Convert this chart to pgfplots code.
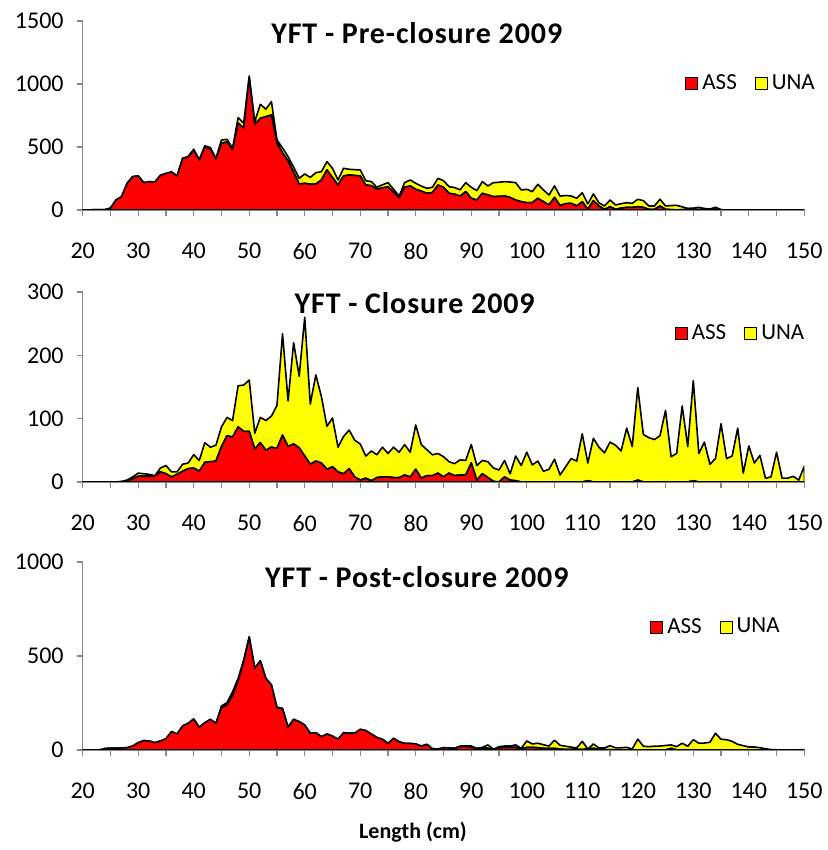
\documentclass[border=0pt]{standalone}
\usepackage{fontspec}
\setmainfont{Carlito}
\newfontfamily\titlefont[LetterSpace=3, BoldFont={Carlito Bold}]{Carlito}
\usepackage{pgfplots}
\usepackage{pgfplotstable}
\pgfplotsset{compat=1.18}
\definecolor{axisgray}{HTML}{868686}
\definecolor{assred}{HTML}{FF0000}
\definecolor{unayellow}{HTML}{FFFF00}

\pgfplotstableread{
x ass tot
20 0 0
21 0 0
22 2 2
23 3 3
24 3 3
25 15 15
26 80 80
27 105 105
28 212 212
29 265 265
30 270 270
31 217 217
32 225 225
33 222 222
34 275 275
35 290 290
36 302 302
37 270 270
38 410 410
39 420 425
40 475 482
41 395 400
42 500 510
43 485 495
44 405 410
45 530 556
46 540 560
47 480 490
48 690 733
49 650 688
50 1050 1064
51 680 700
52 728 839
53 740 800
54 754 860
55 532 556
56 453 492
57 388 423
58 300 340
59 206 251
60 212 286
61 204 259
62 206 296
63 238 304
64 318 384
65 258 331
66 198 238
67 270 331
68 278 323
69 274 320
70 270 318
71 198 233
72 193 225
73 164 180
74 175 200
75 185 217
76 140 165
77 98 111
78 180 217
79 191 238
80 164 212
81 150 190
82 132 172
83 138 180
84 198 251
85 180 233
86 132 185
87 125 178
88 110 160
89 146 217
90 93 180
91 79 154
92 132 225
93 119 191
94 106 217
95 108 220
96 111 225
97 100 222
98 79 217
99 66 159
100 58 164
101 58 146
102 93 204
103 66 159
104 40 119
105 100 191
106 35 110
107 50 115
108 53 111
109 32 93
110 66 138
111 5 48
112 74 127
113 32 58
114 5 32
115 26 79
116 5 40
117 15 50
118 21 58
119 21 53
120 26 85
121 21 74
122 5 32
123 5 32
124 32 85
125 5 32
126 3 35
127 0 37
128 3 25
129 2 13
130 2 15
131 3 21
132 0 12
133 0 8
134 20 21
135 0 3
136 0 0
137 0 0
138 0 0
139 0 0
140 0 0
141 0 0
142 0 0
143 0 0
144 0 0
145 0 0
146 0 0
147 0 0
148 0 0
149 0 0
150 0 0
}\pre

\pgfplotstableread{
x ass tot
20 0 0
21 0 0
22 0 0
23 0 0
24 0 0
25 0 0
26 0 0
27 0 1
28 2 3
29 5 8
30 9 14
31 9 13
32 9 12
33 9 10
34 16 22
35 13 26
36 8 16
37 12 16
38 17 28
39 21 30
40 22 43
41 17 34
42 31 62
43 32 55
44 33 58
45 56 87
46 73 102
47 71 97
48 87 152
49 80 153
50 80 161
51 52 77
52 62 102
53 50 97
54 55 104
55 53 121
56 74 234
57 56 128
58 60 220
59 54 167
60 41 260
61 28 123
62 33 169
63 30 135
64 20 88
65 24 101
66 16 55
67 13 72
68 21 82
69 8 66
70 3 60
71 6 41
72 2 49
73 7 43
74 8 55
75 8 45
76 7 55
77 7 47
78 11 59
79 8 47
80 20 90
81 6 59
82 10 51
83 10 43
84 14 45
85 8 40
86 14 32
87 10 29
88 11 35
89 11 34
90 30 59
91 3 26
92 13 34
93 7 32
94 1 22
95 0 19
96 8 34
97 3 13
98 2 41
99 0 26
100 0 47
101 0 27
102 0 33
103 0 17
104 0 20
105 0 36
106 0 11
107 0 24
108 0 37
109 0 33
110 0 76
111 2 30
112 0 69
113 0 55
114 0 46
115 0 63
116 0 58
117 0 49
118 0 85
119 0 56
120 3 149
121 0 75
122 0 70
123 0 67
124 0 73
125 0 113
126 0 40
127 0 45
128 0 120
129 0 56
130 2 160
131 0 45
132 0 63
133 0 28
134 0 37
135 0 92
136 0 37
137 0 41
138 0 85
139 0 14
140 0 57
141 0 30
142 0 42
143 0 6
144 0 8
145 0 47
146 0 6
147 0 6
148 0 9
149 0 3
150 0 25
}\clo

\pgfplotstableread{
x ass tot
20 0 0
21 0 0
22 0 0
23 0 0
24 8 8
25 10 10
26 10 10
27 11 11
28 12 12
29 21 21
30 39 39
31 50 50
32 48 48
33 39 39
34 48 48
35 60 60
36 98 98
37 85 85
38 128 128
39 142 142
40 165 165
41 121 121
42 145 145
43 163 163
44 142 142
45 225 234
46 240 252
47 290 310
48 368 381
49 470 479
50 600 603
51 435 435
52 475 475
53 381 381
54 346 346
55 225 227
56 218 222
57 121 121
58 163 163
59 151 151
60 133 133
61 89 89
62 92 92
63 71 71
64 85 85
65 74 74
66 57 57
67 92 92
68 89 89
69 89 89
70 110 110
71 103 103
72 85 85
73 67 67
74 57 57
75 35 35
76 62 62
77 44 44
78 35 35
79 35 35
80 32 32
81 21 21
82 30 30
83 7 7
84 5 5
85 12 12
86 11 11
87 9 9
88 18 21
89 18 21
90 16 21
91 7 9
92 10 14
93 9 27
94 3 4
95 12 18
96 14 21
97 14 21
98 14 27
99 5 9
100 14 48
101 14 32
102 12 36
103 9 28
104 9 21
105 9 52
106 5 25
107 3 20
108 3 15
109 3 11
110 3 46
111 5 5
112 9 32
113 3 11
114 2 11
115 2 23
116 0 11
117 0 12
118 0 14
119 0 5
120 0 58
121 0 20
122 0 18
123 0 20
124 0 21
125 0 24
126 9 27
127 0 18
128 0 36
129 0 20
130 0 55
131 0 36
132 0 37
133 0 41
134 0 89
135 0 57
136 0 55
137 0 46
138 0 30
139 0 23
140 0 16
141 0 16
142 0 12
143 0 7
144 0 2
145 0 1
146 0 1
147 0 1
148 0 1
149 0 1
150 0 2
}\post

\tikzset{ttl/.style={font=\titlefont\bfseries\fontsize{15}{17}\selectfont}}
\pgfplotsset{
  panel/.style={
    scale only axis, width=360.8pt, anchor=south west,
    xmin=20, xmax=150, ymin=0,
    axis x line*=bottom, axis y line*=left,
    axis line style={draw=axisgray, line width=0.6pt, -},
    xtick={20,30,...,150}, minor xtick={25,35,...,145},
    tick align=outside, major tick length=3pt, minor tick length=3pt,
    every tick/.style={draw=axisgray, line width=0.6pt},
    every minor tick/.style={draw=axisgray, line width=0.6pt},
    /pgf/number format/assume math mode=true,
    /pgf/number format/1000 sep={},
    scaled y ticks=false,
    tick label style={font=\fontsize{12}{14}\selectfont},
    xticklabel style={yshift=-10pt},
    yticklabel style={xshift=-3pt},
    stack plots=y,
    legend style={draw=none, fill=none, legend columns=2, anchor=west,
      font=\fontsize{11.5}{13}\selectfont, inner xsep=0pt,
      /tikz/every even column/.append style={column sep=7pt}},
    legend image code/.code={\draw[#1,draw=black,line width=0.5pt] (0pt,-3pt) rectangle (6pt,3pt);},
  },
  asspl/.style={fill=assred, draw=black, line width=0.8pt, line join=round},
  unapl/.style={fill=unayellow, draw=black, line width=0.8pt, line join=round},
}

\begin{document}
\begin{tikzpicture}
% Panel 1
\begin{axis}[panel, at={(41.35pt,320pt)}, height=94.5pt,
  ymax=1500, ytick={0,500,1000,1500},
  legend style={at={(0.8347,0.667)}}]
\addplot[asspl] table[x=x, y=ass] {\pre} \closedcycle;
\addplot[unapl] table[x=x, y expr=\thisrow{tot}-\thisrow{ass}] {\pre} \closedcycle;
\legend{ASS, UNA}
\node[ttl] at (axis description cs:0.463,0.935) {YFT - Pre-closure 2009};
\end{axis}
% Panel 2
\begin{axis}[panel, at={(41.35pt,184pt)}, height=95pt,
  ymax=300, ytick={0,100,200,300},
  legend style={at={(0.82,0.779)}}]
\addplot[asspl] table[x=x, y=ass] {\clo} \closedcycle;
\addplot[unapl] table[x=x, y expr=\thisrow{tot}-\thisrow{ass}] {\clo} \closedcycle;
\legend{ASS, UNA}
\node[ttl] at (axis description cs:0.46,0.942) {YFT - Closure 2009};
\end{axis}
% Panel 3
\begin{axis}[panel, at={(41.35pt,50pt)}, height=94pt,
  ymax=1000, ytick={0,500,1000},
  legend style={at={(0.786,0.654)}}]
\addplot[asspl] table[x=x, y=ass] {\post} \closedcycle;
\addplot[unapl] table[x=x, y expr=\thisrow{tot}-\thisrow{ass}] {\post} \closedcycle;
\legend{ASS, UNA}
\node[ttl] at (axis description cs:0.463,0.92) {YFT - Post-closure 2009};
\end{axis}
\node[font=\bfseries\fontsize{11}{13}\selectfont] at (206.5pt,9pt) {Length (cm)};
\pgfresetboundingbox
\path (0,0) rectangle (414pt,425pt);
\end{tikzpicture}
\end{document}
